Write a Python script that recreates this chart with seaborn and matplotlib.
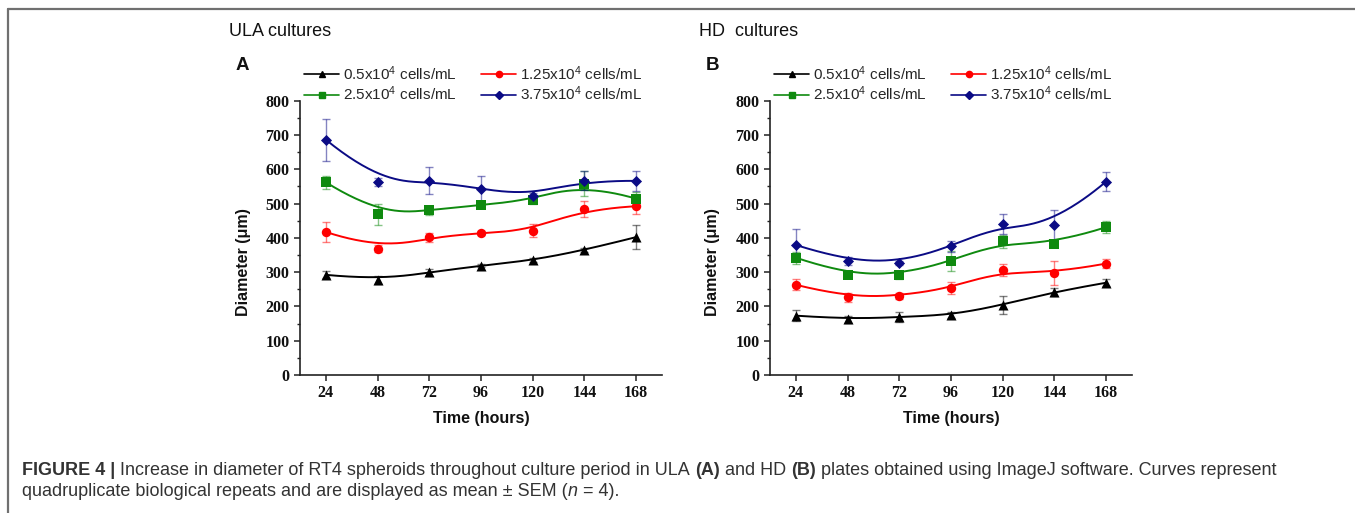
import numpy as np
import pandas as pd
import matplotlib
matplotlib.use("Agg")
import matplotlib.pyplot as plt
import seaborn as sns
from matplotlib.lines import Line2D
from matplotlib.ticker import MultipleLocator
from matplotlib.font_manager import FontProperties

# ---------------- data ----------------
time_h = [24, 48, 72, 96, 120, 144, 168]
densities = ["0.5x10$^4$ cells/mL", "1.25x10$^4$ cells/mL",
             "2.5x10$^4$ cells/mL", "3.75x10$^4$ cells/mL"]

# ULA plates: mean diameter (um) and SEM
ula_05 = [292, 278, 299, 319, 334, 364, 402]
ula_05_sem = [10, 12, 9, 5, 6, 6, 34]
ula_125 = [417, 368, 401, 414, 421, 484, 492]
ula_125_sem = [29, 10, 12, 5, 20, 24, 24]
ula_25 = [562, 468, 480, 496, 510, 558, 514]
ula_25_sem = [19, 32, 13, 7, 10, 36, 20]
ula_375 = [686, 563, 566, 543, 522, 567, 566]
ula_375_sem = [61, 12, 39, 38, 10, 29, 29]

# HD plates: mean diameter (um) and SEM
hd_05 = [173, 163, 169, 175, 204, 243, 269]
hd_05_sem = [16, 10, 15, 9, 27, 12, 10]
hd_125 = [263, 226, 230, 254, 306, 297, 325]
hd_125_sem = [16, 14, 9, 18, 18, 36, 13]
hd_25 = [342, 292, 292, 332, 390, 383, 431]
hd_25_sem = [17, 8, 12, 30, 19, 8, 17]
hd_375 = [379, 332, 327, 375, 440, 437, 564]
hd_375_sem = [48, 12, 5, 16, 30, 45, 29]

y_ticks = [0, 100, 200, 300, 400, 500, 600, 700, 800]

colors = ["#000000", "#ff0000", "#0f8a0f", "#0b0b85"]
markers = ["^", "o", "s", "D"]
msizes = [52, 46, 42, 32]

# ---------------- style ----------------
sns.set_theme(style="ticks")
plt.rcParams.update({
    "font.family": ["Liberation Sans", "DejaVu Sans"],
    "mathtext.default": "regular",
    "axes.linewidth": 1.2,
    "xtick.major.width": 1.1,
    "ytick.major.width": 1.1,
    "ytick.minor.width": 1.0,
    "xtick.major.size": 4.5,
    "ytick.major.size": 4.5,
    "ytick.minor.size": 2.5,
    "xtick.direction": "out",
    "ytick.direction": "out",
    "xtick.color": "#222222",
    "ytick.color": "#222222",
    "axes.edgecolor": "#222222",
})

W, H = 1355, 513
fig = plt.figure(figsize=(W / 100, H / 100), dpi=100)
fig.patch.set_facecolor("white")


def fx(px):
    return px / W


def fy(py):
    return 1 - py / H


def bspline_curve(x, y, num=300, k=3):
    """Clamped uniform cubic B-spline with the data points as control points."""
    ctrl = np.column_stack([x, y]).astype(float)
    n = len(ctrl)
    knots = np.concatenate([np.zeros(k), np.arange(n - k + 1),
                            np.full(k, n - k)]).astype(float)
    t = np.linspace(0, n - k, num)
    t[-1] = (n - k) - 1e-9
    N = np.zeros((num, len(knots) - 1))
    for i in range(len(knots) - 1):
        N[:, i] = (knots[i] <= t) & (t < knots[i + 1])
    for p in range(1, k + 1):
        Nn = np.zeros((num, len(knots) - 1 - p))
        for i in range(len(knots) - 1 - p):
            d1 = knots[i + p] - knots[i]
            d2 = knots[i + p + 1] - knots[i + 1]
            a = (t - knots[i]) / d1 * N[:, i] if d1 > 0 else 0.0
            b = (knots[i + p + 1] - t) / d2 * N[:, i + 1] if d2 > 0 else 0.0
            Nn[:, i] = a + b
        N = Nn
    pts = N @ ctrl
    return pts[:, 0], pts[:, 1]


tick_font = FontProperties(family="Liberation Serif", weight="bold", size=11.5)


def draw_panel(ax, means, sems):
    for mean, sem, c, m, s in zip(means, sems, colors, markers, msizes):
        cx, cy = bspline_curve(time_h, mean)
        sns.lineplot(x=cx, y=cy, ax=ax, color=c, linewidth=1.4, sort=False,
                     estimator=None, zorder=2)
        ax.errorbar(time_h, mean, yerr=sem, fmt="none", ecolor=c, alpha=0.5,
                    elinewidth=1.0, capsize=3.2, capthick=1.0, zorder=3)
        sns.scatterplot(x=time_h, y=mean, ax=ax, color=c, marker=m, s=s,
                        edgecolor=c, linewidth=0, zorder=4)
    ax.set_xlim(12, 180)
    ax.set_ylim(0, 800)
    ax.set_xticks(time_h)
    ax.set_yticks(y_ticks)
    ax.yaxis.set_minor_locator(MultipleLocator(50))
    ax.set_xlabel("")
    ax.set_ylabel("")
    sns.despine(ax=ax)
    ax.tick_params(axis="both", pad=3)
    for lbl in ax.get_xticklabels() + ax.get_yticklabels():
        lbl.set_fontproperties(tick_font)
        lbl.set_color("#111111")


handles = [Line2D([], [], color=c, marker=m, markersize=4.5, linewidth=1.2)
           for c, m in zip(colors, markers)]

panels = [
    (300, "ULA cultures", "A",
     [ula_05, ula_125, ula_25, ula_375],
     [ula_05_sem, ula_125_sem, ula_25_sem, ula_375_sem]),
    (770, "HD  cultures", "B",
     [hd_05, hd_125, hd_25, hd_375],
     [hd_05_sem, hd_125_sem, hd_25_sem, hd_375_sem]),
]

for left, title, letter, means, sems in panels:
    ax = fig.add_axes([fx(left), fy(375), fx(362), 274.4 / H])
    draw_panel(ax, means, sems)
    fig.text(fx(left - 71), fy(32), title, fontsize=13, ha="left",
             va="center", color="#111111")
    fig.text(fx(left - 64), fy(66), letter, fontsize=13.5, fontweight="bold",
             ha="left", va="center", color="#111111")
    fig.text(fx(left - 57), fy(262), "Diameter (\u03bcm)", fontsize=11.5,
             fontweight="bold", rotation=90, ha="center", va="center",
             color="#111111")
    fig.text(fx(left + 181), fy(418), "Time (hours)", fontsize=11.5,
             fontweight="bold", ha="center", va="center", color="#111111")
    # handles and labels interleaved so each row holds two densities
    order = [0, 2, 1, 3]
    ax.legend([handles[i] for i in order], [densities[i] for i in order],
              ncol=2, loc="upper left",
              bbox_to_anchor=(fx(left + 4), fy(64)),
              bbox_transform=fig.transFigure, frameon=False, fontsize=11,
              borderpad=0, borderaxespad=0, handlelength=2.3,
              handletextpad=0.25, columnspacing=1.6, labelspacing=0.15)

# figure frame (top and left rules)
frame_c = "#707070"
fig.add_artist(Line2D([fx(8), 1], [fy(8.5), fy(8.5)], color=frame_c,
                      linewidth=1.6, transform=fig.transFigure))
fig.add_artist(Line2D([fx(8), fx(8)], [fy(8.5), 0], color=frame_c,
                      linewidth=1.6, transform=fig.transFigure))

# caption with mixed weights, all segments sharing one baseline
cap_size = 12.95
cap_color = "#333333"
fig.canvas.draw()
renderer = fig.canvas.get_renderer()


def text_width(s, **kw):
    t = fig.text(0, 0, s, fontsize=cap_size, **kw)
    w = t.get_window_extent(renderer).width
    t.remove()
    return w


space_w = text_width("a a") - text_width("aa")


def rich_line(x_px, baseline_px, segments):
    x = x_px
    for seg, kw in segments:
        lead = len(seg) - len(seg.lstrip(" "))
        trail = len(seg) - len(seg.rstrip(" "))
        core = seg.strip(" ")
        x += lead * space_w
        t = fig.text(fx(x), fy(baseline_px), core, fontsize=cap_size,
                     ha="left", va="baseline", color=cap_color, **kw)
        x += t.get_window_extent(renderer).width + trail * space_w


REG = {}
BOLD = {"fontweight": "bold"}
ITAL = {"fontstyle": "italic"}
rich_line(22, 475, [
    ("FIGURE 4 |", BOLD),
    (" Increase in diameter of RT4 spheroids throughout culture period in ULA ", REG),
    ("(A)", BOLD), (" and HD ", REG), ("(B)", BOLD),
    (" plates obtained using ImageJ software. Curves represent", REG),
])
rich_line(22, 496, [
    ("quadruplicate biological repeats and are displayed as mean \u00b1 SEM (", REG),
    ("n", ITAL), (" = 4).", REG),
])

fig.savefig("out.png", dpi=100, facecolor="white")
